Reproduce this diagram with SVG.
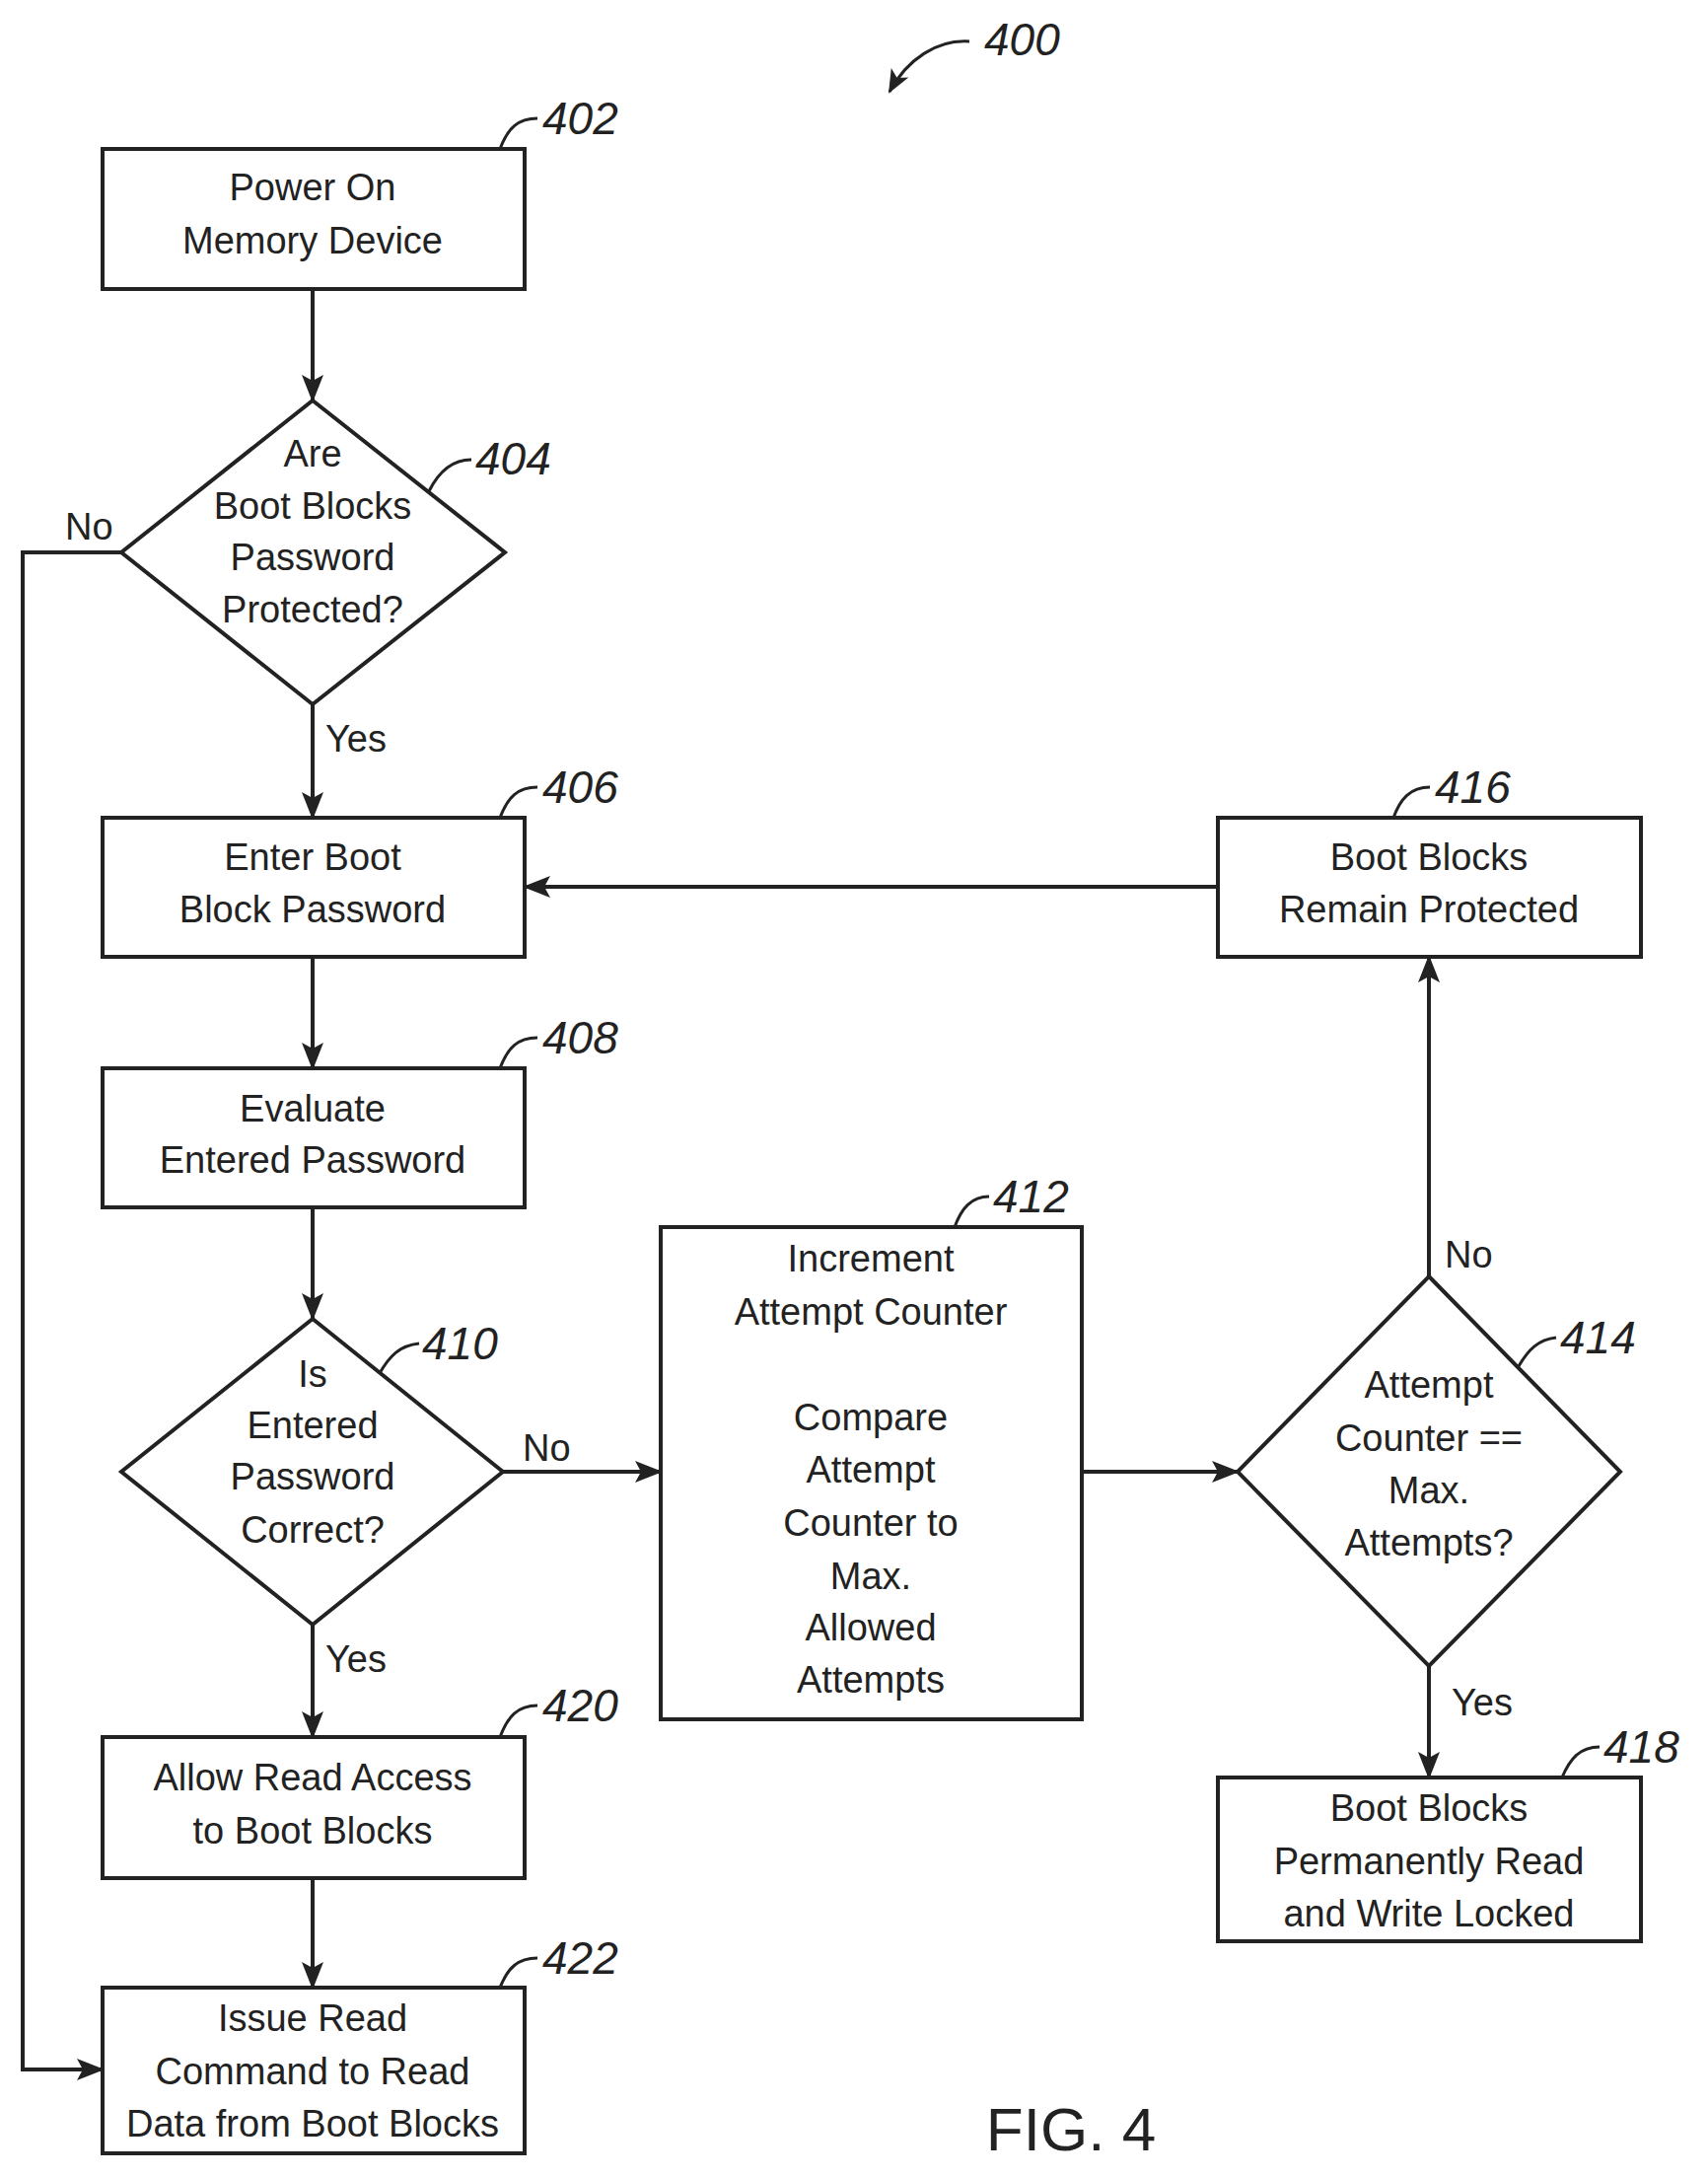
<svg xmlns="http://www.w3.org/2000/svg" width="1732" height="2207" viewBox="0 0 1732 2207">
<style>
.s{fill:#fff;stroke:#222;stroke-width:4}
.t{font-family:"Liberation Sans",Arial,sans-serif;font-size:38px;fill:#222;text-anchor:middle;dominant-baseline:central}
.l{font-family:"Liberation Sans",Arial,sans-serif;font-size:38px;fill:#222;dominant-baseline:central}
.r{font-family:"Liberation Sans",Arial,sans-serif;font-style:italic;font-size:46px;fill:#222;dominant-baseline:central}
.c{fill:none;stroke:#222;stroke-width:4}
.ld{fill:none;stroke:#222;stroke-width:3}
</style>
<defs><marker id="a" markerWidth="24" markerHeight="24" refX="22" refY="12" orient="auto" markerUnits="userSpaceOnUse" viewBox="0 0 24 24"><path d="M0,2L24,12L0,22L6,12z" fill="#222"/></marker>
<marker id="b" markerWidth="28" markerHeight="28" refX="26" refY="14" orient="auto" markerUnits="userSpaceOnUse" viewBox="0 0 28 28"><path d="M0,3L28,14L0,25L6,14z" fill="#222"/></marker></defs>
<g id="connectors">
<path class="c" d="M317,293V406" marker-end="url(#b)"/>
<path class="c" d="M317,714V829" marker-end="url(#b)"/>
<path class="c" d="M317,970V1083" marker-end="url(#b)"/>
<path class="c" d="M317,1224V1337" marker-end="url(#b)"/>
<path class="c" d="M317,1647V1761" marker-end="url(#b)"/>
<path class="c" d="M317,1904V2015" marker-end="url(#b)"/>
<path class="c" d="M510,1492H670" marker-end="url(#b)"/>
<path class="c" d="M1097,1492H1255" marker-end="url(#b)"/>
<path class="c" d="M1449,1294V970" marker-end="url(#b)"/>
<path class="c" d="M1449,1689V1802" marker-end="url(#b)"/>
<path class="c" d="M1235,899H532" marker-end="url(#b)"/>
<path class="c" d="M123,560H23V2098H104" marker-end="url(#b)"/>
<text class="l" x="66" y="534">No</text>
<text class="l" x="330" y="749">Yes</text>
<text class="l" x="530" y="1468">No</text>
<text class="l" x="330" y="1682">Yes</text>
<text class="l" x="1465" y="1272">No</text>
<text class="l" x="1472" y="1726">Yes</text>
</g>
<g id="n402"><rect class="s" x="104" y="151" width="428" height="142"/><text class="t" x="317" y="190">Power On</text><text class="t" x="317" y="244">Memory Device</text><path class="ld" d="M507,151C515,130 525,120 545,120"/><text class="r" x="550" y="120">402</text></g>
<g id="n404"><path class="s" d="M317,406L512,560L317,714L123,560z"/><text class="t" x="317" y="460">Are</text><text class="t" x="317" y="513">Boot Blocks</text><text class="t" x="317" y="565">Password</text><text class="t" x="317" y="618">Protected?</text><path class="ld" d="M435,498C445,478 458,466 478,466"/><text class="r" x="482" y="465">404</text></g>
<g id="n406"><rect class="s" x="104" y="829" width="428" height="141"/><text class="t" x="317" y="869">Enter Boot</text><text class="t" x="317" y="922">Block Password</text><path class="ld" d="M507,829C515,808 525,798 545,798"/><text class="r" x="550" y="798">406</text></g>
<g id="n408"><rect class="s" x="104" y="1083" width="428" height="141"/><text class="t" x="317" y="1124">Evaluate</text><text class="t" x="317" y="1176">Entered Password</text><path class="ld" d="M507,1083C515,1062 525,1052 545,1052"/><text class="r" x="550" y="1052">408</text></g>
<g id="n410"><path class="s" d="M317,1337L510,1492L317,1647L123,1492z"/><text class="t" x="317" y="1393">Is</text><text class="t" x="317" y="1445">Entered</text><text class="t" x="317" y="1497">Password</text><text class="t" x="317" y="1551">Correct?</text><path class="ld" d="M385,1392C395,1375 405,1364 425,1362"/><text class="r" x="428" y="1362">410</text></g>
<g id="n412"><rect class="s" x="670" y="1244" width="427" height="499"/><text class="t" x="883" y="1276">Increment</text><text class="t" x="883" y="1330">Attempt Counter</text><text class="t" x="883" y="1437">Compare</text><text class="t" x="883" y="1490">Attempt</text><text class="t" x="883" y="1544">Counter to</text><text class="t" x="883" y="1598">Max.</text><text class="t" x="883" y="1650">Allowed</text><text class="t" x="883" y="1703">Attempts</text><path class="ld" d="M968,1244C975,1225 985,1213 1003,1213"/><text class="r" x="1007" y="1213">412</text></g>
<g id="n414"><path class="s" d="M1449,1294L1643,1492L1449,1689L1255,1492z"/><text class="t" x="1449" y="1404">Attempt</text><text class="t" x="1449" y="1458">Counter ==</text><text class="t" x="1449" y="1511">Max.</text><text class="t" x="1449" y="1564">Attempts?</text><path class="ld" d="M1540,1385C1550,1368 1560,1358 1578,1356"/><text class="r" x="1582" y="1356">414</text></g>
<g id="n416"><rect class="s" x="1235" y="829" width="429" height="141"/><text class="t" x="1449" y="869">Boot Blocks</text><text class="t" x="1449" y="922">Remain Protected</text><path class="ld" d="M1413,829C1420,810 1430,798 1450,798"/><text class="r" x="1455" y="798">416</text></g>
<g id="n418"><rect class="s" x="1235" y="1802" width="429" height="166"/><text class="t" x="1449" y="1833">Boot Blocks</text><text class="t" x="1449" y="1887">Permanently Read</text><text class="t" x="1449" y="1940">and Write Locked</text><path class="ld" d="M1584,1802C1592,1783 1602,1771 1622,1771"/><text class="r" x="1626" y="1771">418</text></g>
<g id="n420"><rect class="s" x="104" y="1761" width="428" height="143"/><text class="t" x="317" y="1802">Allow Read Access</text><text class="t" x="317" y="1856">to Boot Blocks</text><path class="ld" d="M507,1761C515,1740 525,1729 545,1729"/><text class="r" x="550" y="1729">420</text></g>
<g id="n422"><rect class="s" x="104" y="2015" width="428" height="168"/><text class="t" x="317" y="2046">Issue Read</text><text class="t" x="317" y="2100">Command to Read</text><text class="t" x="317" y="2153">Data from Boot Blocks</text><path class="ld" d="M507,2015C515,1995 525,1985 545,1985"/><text class="r" x="550" y="1985">422</text></g>
<g id="n400"><path class="ld" d="M983,42C950,40 920,60 902,93" marker-end="url(#a)"/><text class="r" x="998" y="40">400</text></g>
<text x="1086" y="2180" style="font-family:'Liberation Sans',Arial,sans-serif;font-size:62px;fill:#222;text-anchor:middle">FIG. 4</text>
</svg>
